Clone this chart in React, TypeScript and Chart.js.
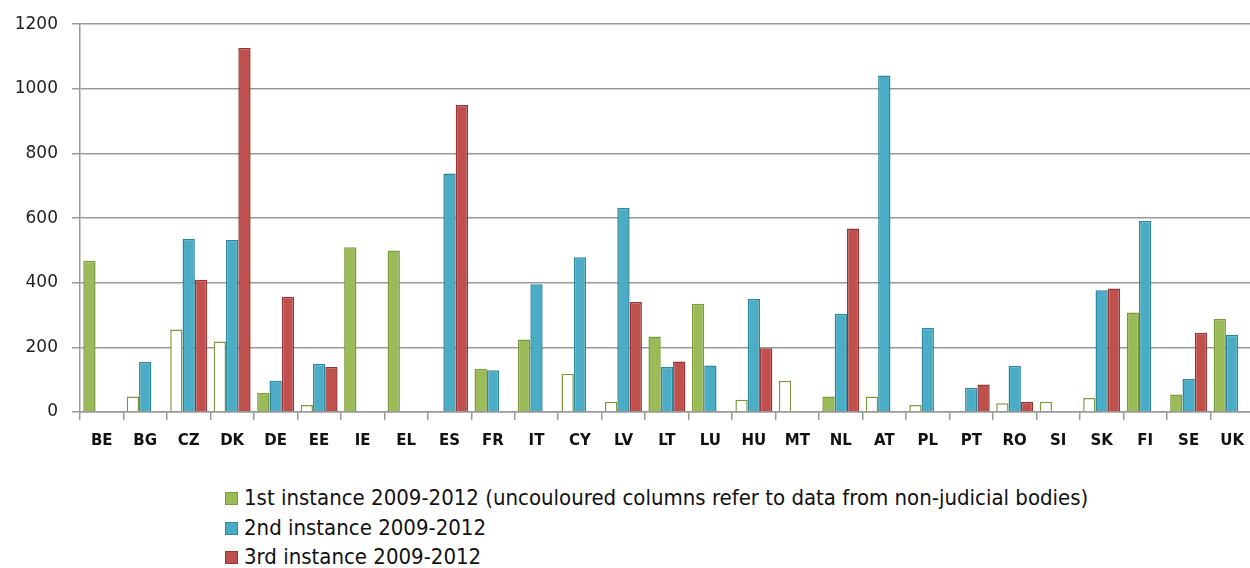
import React, { useEffect, useRef } from "react";
import { Chart, registerables } from "chart.js";

Chart.register(...registerables);

const countries = ["BE","BG","CZ","DK","DE","EE","IE","EL","ES","FR","IT","CY","LV","LT","LU","HU","MT","NL","AT","PL","PT","RO","SI","SK","FI","SE","UK"];
const first = [468,48,255,218,59,22,510,500,null,134,224,118,32,234,335,38,97,48,48,22,null,27,32,43,308,54,288];
const nonJudicial = [false,true,true,true,false,true,false,false,false,false,false,true,true,false,false,true,true,false,true,true,false,true,true,true,false,false,false];
const second = [null,155,536,532,97,149,null,null,738,129,395,479,632,139,144,350,null,304,1041,261,75,143,null,377,591,102,239];
const third = [null,null,409,1126,357,139,null,null,950,null,null,null,340,156,null,197,null,568,null,null,85,32,null,382,null,245,null];
const yTicks = [0,200,400,600,800,1000,1200];

const seriesNames = [
  "1st instance 2009-2012 (uncouloured columns refer to data from non-judicial bodies)",
  "2nd instance 2009-2012",
  "3rd instance 2009-2012",
];
const fills = ["#9BBB59", "#4BACC6", "#C0504D"];
const borders = ["#7A9A3E", "#31859C", "#943634"];

export default function App() {
  const ref = useRef<HTMLCanvasElement | null>(null);
  useEffect(() => {
    document.body.style.margin = "0";
    const canvas = ref.current;
    if (!canvas) return;
    const chart = new Chart(canvas, {
      type: "bar",
      data: {
        labels: countries,
        datasets: [
          {
            label: seriesNames[0],
            data: first,
            backgroundColor: nonJudicial.map((n) => (n ? "#FFFFFF" : fills[0])),
            borderColor: borders[0],
            borderWidth: 1.5,
            categoryPercentage: 0.85,
            barPercentage: 1,
          },
          {
            label: seriesNames[1],
            data: second,
            backgroundColor: fills[1],
            borderColor: borders[1],
            borderWidth: 1.5,
            categoryPercentage: 0.85,
            barPercentage: 1,
          },
          {
            label: seriesNames[2],
            data: third,
            backgroundColor: fills[2],
            borderColor: borders[2],
            borderWidth: 1.5,
            categoryPercentage: 0.85,
            barPercentage: 1,
          },
        ],
      },
      options: {
        responsive: false,
        animation: false,
        layout: { padding: { top: 24, left: 0, right: 0, bottom: 0 } },
        plugins: { legend: { display: false }, tooltip: { enabled: false } },
        scales: {
          x: {
            afterFit: (s: any) => { s.height = 58; },
            grid: { drawOnChartArea: false, drawTicks: true, tickLength: 8, color: "#999999", lineWidth: 1.5, offset: true },
            border: { color: "#999999", width: 1.5 },
            ticks: { color: "#111111", font: { family: "DejaVu Sans", size: 15, weight: "bold" }, padding: 12, maxRotation: 0, autoSkip: false },
          },
          y: {
            min: 0,
            max: 1200,
            afterFit: (s: any) => { s.width = 80; },
            afterBuildTicks: (s: any) => { s.ticks = yTicks.map((v) => ({ value: v })); },
            grid: { color: "#999999", lineWidth: 1.5, tickLength: 8, drawTicks: true },
            border: { color: "#999999", width: 1.5 },
            ticks: { color: "#222222", font: { family: "DejaVu Sans", size: 17 }, padding: 14, callback: (v: any) => String(v) },
          },
        },
      },
    });
    return () => chart.destroy();
  }, []);

  const rowCenters = [498, 528, 557];
  return (
    <div style={{ position: "relative", width: 1250, height: 568, overflow: "hidden", background: "#fff" }}>
      <canvas ref={ref} width={1256} height={470} style={{ display: "block" }} />
      {seriesNames.map((name, i) => (
        <div key={name} style={{ position: "absolute", left: 225, top: rowCenters[i] - 14, height: 28, display: "flex", alignItems: "center", whiteSpace: "nowrap" }}>
          <span style={{ display: "inline-block", boxSizing: "border-box", width: 13, height: 13, background: fills[i], border: `1px solid ${borders[i]}`, marginRight: 6 }} />
          <span style={{ fontFamily: "'DejaVu Sans Condensed', 'DejaVu Sans'", fontStretch: "condensed", fontSize: 22, lineHeight: "28px", color: "#111" }}>{name}</span>
        </div>
      ))}
    </div>
  );
}
